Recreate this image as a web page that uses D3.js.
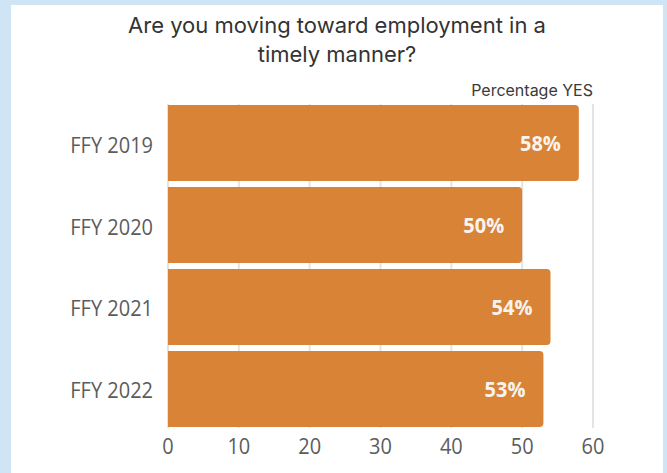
<!DOCTYPE html>
<html>
<head>
<meta charset="utf-8">
<script src="https://cdn.jsdelivr.net/npm/d3@7"></script>
<style>
  body { margin: 0; background: #cfe4f5; }
  svg { display: block; }
</style>
</head>
<body>
<div id="chart"></div>
<script>
// data
var years = ["FFY 2019", "FFY 2020", "FFY 2021", "FFY 2022"];
var pctYes = [58, 50, 54, 53];
var ticks = [0, 10, 20, 30, 40, 50, 60];
var titleLines = ["Are you moving toward employment in a", "timely manner?"];
var seriesName = "Percentage YES";

var W = 667, H = 473;

var svg = d3.select("#chart").append("svg")
  .attr("width", W)
  .attr("height", H);

// white card on blue page
svg.append("rect").attr("x", 11).attr("y", 5).attr("width", 652).attr("height", H)
  .attr("fill", "#ffffff");

var x = d3.scaleLinear().domain([0, 60]).range([168, 593]);
var y = d3.scaleBand().domain(years).range([105, 427]).paddingInner(0.073).paddingOuter(0);

// gridlines
svg.append("g").selectAll("line").data(ticks).join("line")
  .attr("x1", function (d) { return x(d); })
  .attr("x2", function (d) { return x(d); })
  .attr("y1", 104).attr("y2", 428)
  .attr("stroke", "#e4e4e4")
  .attr("stroke-width", 2);

// bars, square at the left, rounded at the right
var r = 4;
svg.append("g").selectAll("path").data(years).join("path")
  .attr("fill", "#d98336")
  .attr("d", function (d, i) {
    var x0 = x(0), x1 = x(pctYes[i]), y0 = y(d), y1 = y(d) + y.bandwidth();
    return "M" + x0 + "," + y0 + "H" + (x1 - r) + "Q" + x1 + "," + y0 + " " + x1 + "," + (y0 + r) +
      "V" + (y1 - r) + "Q" + x1 + "," + y1 + " " + (x1 - r) + "," + y1 + "H" + x0 + "Z";
  });

// value labels
svg.append("g").selectAll("text").data(years).join("text")
  .attr("transform", function (d, i) {
    return "translate(" + (x(pctYes[i]) - 18) + "," + (y(d) + y.bandwidth() / 2 + 8) + ") scale(1,1.1)";
  })
  .attr("text-anchor", "end")
  .style("font-family", "'Open Sans', sans-serif")
  .style("font-weight", "bold")
  .style("font-size", "20px")
  .style("fill", "#f7f3ef")
  .text(function (d, i) { return pctYes[i] + "%"; });

// category labels
svg.append("g").selectAll("text").data(years).join("text")
  .attr("transform", function (d) {
    return "translate(153," + (y(d) + y.bandwidth() / 2 + 9.5) + ") scale(1,1.12)";
  })
  .attr("text-anchor", "end")
  .style("font-family", "'Open Sans', sans-serif")
  .style("font-size", "20px")
  .style("fill", "#5c5c5c")
  .text(function (d) { return d; });

// x tick labels
svg.append("g").selectAll("text").data(ticks).join("text")
  .attr("transform", function (d) { return "translate(" + x(d) + ",453.5) scale(1,1.12)"; })
  .attr("text-anchor", "middle")
  .style("font-family", "'Open Sans', sans-serif")
  .style("font-size", "20px")
  .style("fill", "#5c5c5c")
  .text(function (d) { return d; });

// title
svg.append("g").selectAll("text").data(titleLines).join("text")
  .attr("x", 337)
  .attr("y", function (d, i) { return 33 + i * 29; })
  .attr("text-anchor", "middle")
  .style("font-family", "Inter, sans-serif")
  .style("font-size", "22px")
  .style("fill", "#333333")
  .text(function (d) { return d; });

svg.append("text")
  .attr("x", 593).attr("y", 96)
  .attr("text-anchor", "end")
  .style("font-family", "Inter, sans-serif")
  .style("font-size", "16px")
  .style("fill", "#3a3a3a")
  .text(seriesName);
</script>
</body>
</html>
